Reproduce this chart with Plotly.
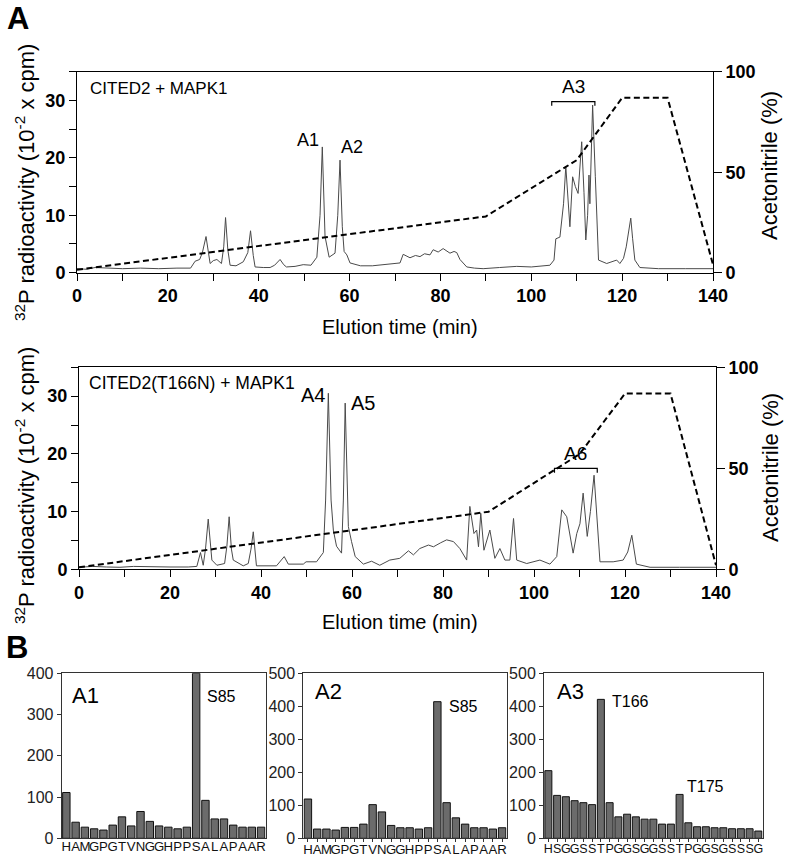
import plotly.graph_objects as go

W, H = 787, 859
FONT = "Liberation Sans, Arial, sans-serif"
NARROW = "Liberation Sans Narrow, Liberation Sans, Arial, sans-serif"


def fx(px):
    return px / W


def fy(py):
    return 1 - py / H


# ---------------- Data ----------------
# Panel A, top: CITED2 + MAPK1  (elution time in min, 32P radioactivity in 10^-2 cpm)
top_time = [0, 2, 4, 6, 8, 10, 14, 18, 22, 25, 26, 27, 27.6, 28.4, 29.3, 30.0, 30.8, 31.8,
            32.3, 32.7, 33.2, 33.7, 35, 36.6, 37.6, 38.2, 38.8, 39.2, 41, 42.5, 43.5, 44.7,
            45.5, 46.1, 48, 49.8, 51.5, 52.8, 53.5, 54.0, 54.6, 55.5, 56.8, 57.4, 57.9, 58.4,
            58.8, 59.4, 60.1, 62.4, 65, 68.2, 70, 71.1, 71.8, 73.3, 74.5, 75.5, 76.5, 77.7,
            78.4, 79.5, 80.6, 81.3, 82.1, 83.0, 83.6, 84.3, 85.8, 87.5, 89.4, 93, 96.8, 100,
            104.1, 105.0, 105.4, 106.3, 107.1, 107.6, 108.1, 108.5, 109.1, 109.7, 110.3,
            111.1, 111.6, 112.0, 112.4, 112.7, 112.9, 113.5, 114.1, 114.8, 116.6, 118.8,
            119.5, 120.3, 120.9, 121.9, 122.3, 122.8, 123.9, 128, 134, 140]
top_cpm = [0.7, 0.6, 0.9, 0.8, 0.7, 0.7, 0.8, 0.7, 0.8, 0.8, 2.0, 2.3, 3.5, 6.3, 1.6, 2.1, 2.3, 1.6,
           4.5, 9.6, 4.0, 1.3, 1.2, 1.9, 3.5, 7.3, 3.0, 1.0, 0.9, 0.9, 1.3, 2.3,
           1.4, 1.0, 1.1, 1.4, 1.3, 2.7, 10.0, 21.9, 6.3, 2.7, 3.4, 10.0, 19.6, 8.0,
           3.7, 3.1, 1.7, 1.2, 1.2, 1.4, 1.6, 1.7, 3.2, 2.6, 3.0, 2.8, 3.3, 3.1,
           4.0, 3.6, 4.2, 3.8, 3.4, 3.7, 3.5, 2.3, 1.0, 0.8, 0.7, 0.9, 1.1, 1.0,
           1.3, 2.2, 5.9, 6.2, 12.0, 18.5, 12.0, 8.0, 16.7, 15.0, 13.8,
           22.8, 14.0, 5.7, 10.0, 17.0, 12.0, 29.2, 16.7, 2.2, 1.6, 2.2,
           1.6, 2.5, 4.5, 9.5, 6.0, 2.2, 0.9, 0.7, 0.7, 0.7]

# Panel A, bottom: CITED2(T166N) + MAPK1
bot_time = [0, 3, 6, 9, 12, 16, 20, 24, 25.9, 26.7, 27.3, 27.8, 28.4, 29.2, 30.3, 32.0, 32.5,
            33.0, 33.5, 33.9, 36.1, 37.2, 37.8, 38.3, 38.7, 39.0, 43.4, 44.3, 45.1, 46.0, 49.3,
            49.9, 52.2, 53.7, 54.2, 54.8, 55.4, 55.9, 56.6, 57.7, 58.1, 58.5, 59.2, 59.9, 60.7,
            62.5, 64.3, 66.1, 68.3, 70.5, 72.4, 73.5, 74.9, 76.8, 77.9, 79.5, 80.8, 82.3, 83.7,
            85.2, 85.9, 86.8, 87.4, 87.8, 88.3, 89.0, 90.3, 91.4, 92.5, 93.6, 94.7, 95.5, 96.2,
            98.4, 101.3, 103.5, 105.0, 106.1, 107.2, 108.6, 109.4, 110.1, 110.8, 111.7, 112.4,
            113.2, 113.9, 114.5, 117.4, 119.6, 120.6, 121.5, 122.5, 125.5, 132, 139.4, 140]
bot_cpm = [0.35, 0.5, 0.4, 0.35, 0.5, 0.4, 0.4, 0.4, 0.5, 2.9, 0.7, 3.5, 8.7, 1.6, 0.7, 1.0, 4.0,
           9.1, 3.5, 1.6, 0.6, 1.0, 3.5, 6.5, 2.5, 0.6, 0.6, 1.5, 2.2, 0.9, 0.9,
           1.3, 1.3, 2.9, 12.0, 30.5, 12.0, 6.8, 4.0, 2.8, 12.0, 28.8, 7.4, 4.8, 2.2,
           0.9, 1.4, 0.7, 1.6, 1.9, 3.2, 2.5, 3.6, 4.2, 3.9, 4.6, 5.1, 4.8, 3.6,
           1.6, 10.9, 6.2, 6.8, 3.9, 9.7, 3.3, 6.8, 1.9, 3.6, 1.6, 1.6, 8.8, 1.6,
           1.0, 1.6, 0.9, 2.2, 10.3, 9.1, 2.8, 6.2, 7.9, 13.2, 5.7, 10.0,
           16.3, 8.6, 1.3, 1.3, 1.6, 3.0, 5.9, 0.9, 0.35, 0.35, 0.35, 0.35]

# Acetonitrile gradient (%)
grad_time = [0, 90, 110, 120, 130, 140]
grad_top = [1.5, 28, 56, 87, 87, 4]
grad_bot = [1.0, 28.5, 57, 87, 87, 2]

# Peak labels (name, time, cpm) and bracketed peak groups (name, start, end, cpm)
top_peaks = [("A1", 50.9, 23.1), ("A2", 60.5, 21.9)]
bot_peaks = [("A4", 51.5, 30.2), ("A5", 62.5, 28.8)]
top_group = ("A3", 104.5, 114.0, 29.8)
bot_group = ("A6", 104.5, 113.9, 17.5)

acn_ticks = [0, 50, 100]

# Panel B: Edman sequencing radioactivity per cycle
seq_A1 = list("HAMGPGTVNGGHPPSALAPAAR")
vals_A1 = [111, 39, 27, 23, 20, 32, 52, 30, 65, 41, 30, 27, 23, 27, 400, 92, 47, 47, 32, 27, 27, 27]
seq_A2 = list("HAMGPGTVNGGHPPSALAPAAR")
vals_A2 = [119, 28, 28, 25, 33, 33, 43, 102, 80, 39, 32, 32, 28, 32, 414, 108, 62, 43, 32, 32, 28, 32]
seq_A3 = list("HSGGSSTPGGSGGSSTPGGSGSSSG")
vals_A3 = [205, 130, 126, 114, 108, 102, 421, 108, 65, 73, 65, 58, 58, 43, 43, 133, 47, 35, 35,
           32, 32, 29, 29, 29, 22]
site_labels_A1 = [("S85", 14.9, 343)]
site_labels_A2 = [("S85", 15.0, 399)]
site_labels_A3 = [("T166", 7.0, 414), ("T175", 15.6, 156)]

# ---------------- Figure ----------------
fig = go.Figure()

TRACE_COLOR = "#4a4a4a"
DASH = dict(color="black", width=2, dash="6px,3.5px")

fig.add_trace(go.Scatter(x=top_time, y=top_cpm, mode="lines", xaxis="x", yaxis="y",
                         line=dict(color=TRACE_COLOR, width=1)))
fig.add_trace(go.Scatter(x=grad_time, y=grad_top, mode="lines", xaxis="x", yaxis="y2",
                         line=DASH))
fig.add_trace(go.Scatter(x=bot_time, y=bot_cpm, mode="lines", xaxis="x2", yaxis="y3",
                         line=dict(color=TRACE_COLOR, width=1)))
fig.add_trace(go.Scatter(x=grad_time, y=grad_bot, mode="lines", xaxis="x2", yaxis="y4",
                         line=DASH))

BAR_FILL = "#6b6b6b"
for seq, vals, xa, ya in [(seq_A1, vals_A1, "x3", "y5"),
                          (seq_A2, vals_A2, "x4", "y6"),
                          (seq_A3, vals_A3, "x5", "y7")]:
    fig.add_trace(go.Bar(x=list(range(len(seq))), y=vals, xaxis=xa, yaxis=ya,
                         marker=dict(color=BAR_FILL, line=dict(color="#111", width=1))))

TICKFONT = dict(family=FONT, size=18, color="black", weight="bold")


def chrom_x(domain, anchor):
    return dict(domain=domain, anchor=anchor, range=[0, 140], tick0=0, dtick=20,
                ticks="outside", ticklen=7, tickwidth=1, tickcolor="black",
                minor=dict(dtick=10, tick0=0, ticks="outside", ticklen=7, tickwidth=1,
                           tickcolor="black", showgrid=False),
                showline=True, linecolor="black", linewidth=1,
                mirror=True, showgrid=False, zeroline=False, automargin=False,
                tickfont=TICKFONT)


def chrom_yl(domain, anchor):
    return dict(domain=domain, anchor=anchor, range=[0, 35], tick0=0, dtick=10,
                ticks="outside", ticklen=7, tickwidth=1, tickcolor="black",
                minor=dict(dtick=5, tick0=0, ticks="outside", ticklen=7, tickwidth=1,
                           tickcolor="black", showgrid=False),
                showline=True, linecolor="black", linewidth=1,
                mirror=True, showgrid=False, zeroline=False, automargin=False,
                tickfont=TICKFONT)


def chrom_yr(over, anchor):
    return dict(overlaying=over, anchor=anchor, side="right", range=[0, 100],
                tickvals=acn_ticks, ticks="outside", ticklen=8, tickwidth=1,
                tickcolor="black", showline=True, linecolor="black", linewidth=1,
                showgrid=False, zeroline=False, automargin=False,
                tickfont=TICKFONT)


def bar_x(domain, anchor, seq, ticks, size):
    return dict(domain=domain, anchor=anchor, range=[-0.5, len(seq) - 0.5],
                tickvals=list(range(len(seq))), ticktext=seq, tickangle=0,
                ticks=ticks, ticklen=3, tickcolor="#333", ticklabelstandoff=-4,
                showline=True, linecolor="#333", linewidth=1, mirror=True,
                showgrid=False, zeroline=False, automargin=False,
                tickfont=dict(family=NARROW, size=size, color="#111"))


def bar_y(domain, anchor, top):
    return dict(domain=domain, anchor=anchor, range=[0, top],
                tickvals=list(range(0, top + 1, 100)), ticks="outside", ticklen=4,
                tickcolor="#333", showline=True, linecolor="#333", linewidth=1,
                mirror=True, showgrid=False, zeroline=False, automargin=False,
                tickfont=dict(family=FONT, size=16, color="#222"))


bar_ydom = [fy(838.3), fy(673.3)]

annotations = []


def txt(text, x, y, size, xref="paper", yref="paper", xanchor="center", yanchor="middle",
        angle=0, bold=False, family=FONT):
    annotations.append(dict(text=("<b>%s</b>" % text) if bold else text, x=x, y=y,
                            xref=xref, yref=yref, xanchor=xanchor, yanchor=yanchor,
                            showarrow=False, textangle=angle,
                            font=dict(family=family, size=size, color="black")))


# panel letters
txt("A", fx(18), fy(19), 31, bold=True)
txt("B", fx(17), fy(647), 31, bold=True)

# axis titles
ytitle = "<sup>32</sup>P radioactivity (10<sup>-2</sup> x cpm)"
txt(ytitle, fx(25), fy(183), 22, angle=-90)
txt(ytitle, fx(25), fy(486), 22, angle=-90)
txt("Acetonitrile (%)", fx(770), fy(166), 22, angle=-90)
txt("Acetonitrile (%)", fx(770), fy(468), 22, angle=-90)
txt("Elution time (min)", fx(400), fy(326.7), 20)
txt("Elution time (min)", fx(400), fy(622), 20)

# sample labels
txt("CITED2 + MAPK1", fx(88), fy(88.3), 17, xanchor="left")
txt("CITED2(T166N) + MAPK1", fx(86.7), fy(383.3), 17.5, xanchor="left")

for name, t, v in top_peaks:
    txt(name, t, v, 18, xref="x", yref="y")
for name, t, v in bot_peaks:
    txt(name, t, v, 20, xref="x2", yref="y3")

shapes = []
for (name, t0, t1, v), xr, yr in [(top_group, "x", "y"), (bot_group, "x2", "y3")]:
    d = 0.75
    shapes.append(dict(type="path", xref=xr, yref=yr,
                       path="M %g,%g L %g,%g L %g,%g L %g,%g" % (t0, v - d, t0, v, t1, v, t1, v - d),
                       line=dict(color="black", width=1.2)))
    txt(name, (t0 + t1) / 2, v + 0.4, 19, xref=xr, yref=yr, yanchor="bottom")

# bar panel labels
txt("A1", 0.04, 0.868, 22, xref="x3 domain", yref="y5 domain", xanchor="left")
txt("A2", 0.048, 0.888, 22, xref="x4 domain", yref="y6 domain", xanchor="left")
txt("A3", 0.05, 0.888, 22, xref="x5 domain", yref="y7 domain", xanchor="left")
for labels, xr, yr in [(site_labels_A1, "x3", "y5"), (site_labels_A2, "x4", "y6"),
                       (site_labels_A3, "x5", "y7")]:
    for name, xi, v in labels:
        txt(name, xi, v, 16, xref=xr, yref=yr, xanchor="left")

fig.update_layout(
    width=W, height=H, autosize=False,
    margin=dict(l=0, r=0, t=0, b=0, pad=0),
    paper_bgcolor="white", plot_bgcolor="white",
    showlegend=False, hovermode=False, bargap=0.2,
    font=dict(family=FONT, color="black"),
    xaxis=chrom_x([fx(77), fx(713)], "y"),
    yaxis=chrom_yl([fy(272.7), fy(71.7)], "x"),
    yaxis2=chrom_yr("y", "x"),
    xaxis2=chrom_x([fx(79), fx(716)], "y3"),
    yaxis3=chrom_yl([fy(569.3), fy(367.3)], "x2"),
    yaxis4=chrom_yr("y3", "x2"),
    xaxis3=bar_x([fx(61.7), fx(265.7)], "y5", seq_A1, "", 13.2),
    yaxis5=bar_y(bar_ydom, "x3", 400),
    xaxis4=bar_x([fx(303.3), fx(506.7)], "y6", seq_A2, "outside", 13.2),
    yaxis6=bar_y(bar_ydom, "x4", 500),
    xaxis5=bar_x([fx(544), fx(762.7)], "y7", seq_A3, "outside", 12.5),
    yaxis7=bar_y(bar_ydom, "x5", 500),
    annotations=annotations,
    shapes=shapes,
)

fig.write_html("out.html", config={"displayModeBar": False},
               post_script="document.body.style.margin='0px';")
